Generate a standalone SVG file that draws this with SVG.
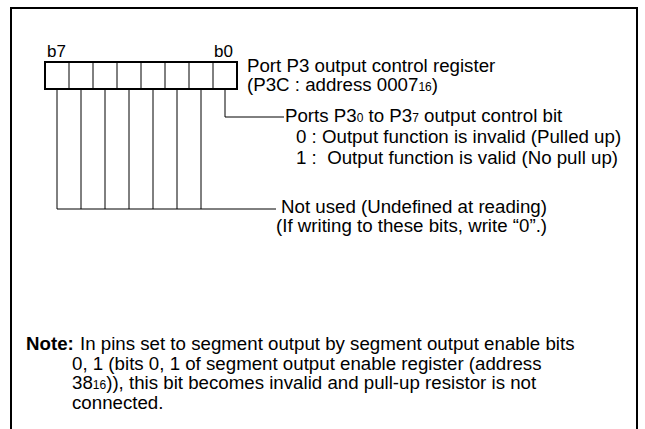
<svg xmlns="http://www.w3.org/2000/svg" width="645" height="429" viewBox="0 0 645 429">
<style>
text{font-family:"Liberation Sans",Arial,sans-serif;font-size:18.7px;fill:#000;white-space:pre}
.sub{font-size:12px}
.bit{font-size:17px}
.frame{fill:none;stroke:#000;stroke-width:2}
.reg{fill:#fff;stroke:#000;stroke-width:2}
.cell{stroke:#000;stroke-width:1}
.conn{fill:none;stroke:#000;stroke-width:1}
</style>
<rect width="645" height="429" fill="#fff"/>
<path class="frame" d="M11,429 V8 H637 V429"/>
<g id="register">
<rect class="reg" x="45" y="62" width="192" height="27"/>
<path class="cell" d="M69,62V89M93,62V89M117,62V89M141,62V89M165,62V89M189,62V89M213,62V89"/>
<text class="bit" x="47" y="57">b7</text>
<text class="bit" x="214" y="57">b0</text>
</g>
<g id="connectors">
<path class="conn" d="M57,89V209M81,89V209M105,89V209M129,89V209M153,89V209M177,89V209M201,89V209M57,209H276"/>
<path class="conn" d="M225,89V117H284"/>
</g>
<g id="title">
<text x="247" y="72">Port P3 output control register</text>
<text x="247" y="91">(P3C : address 0007<tspan class="sub">16</tspan>)</text>
</g>
<g id="bit0">
<text x="285" y="122">Ports P3<tspan class="sub">0</tspan> to P3<tspan class="sub">7</tspan> output control bit</text>
<text x="296" y="143">0 : Output function is invalid (Pulled up)</text>
<text x="296" y="164">1 :  Output function is valid (No pull up)</text>
</g>
<g id="notused">
<text x="281" y="213">Not used (Undefined at reading)</text>
<text x="276" y="232">(If writing to these bits, write “0”.)</text>
</g>
<g id="note">
<text x="26" y="350" font-weight="bold">Note:</text>
<text x="80" y="350">In pins set to segment output by segment output enable bits</text>
<text x="72" y="370">0, 1 (bits 0, 1 of segment output enable register (address</text>
<text x="72" y="389">38<tspan class="sub">16</tspan>)), this bit becomes invalid and pull-up resistor is not</text>
<text x="72" y="409">connected.</text>
</g>
</svg>
